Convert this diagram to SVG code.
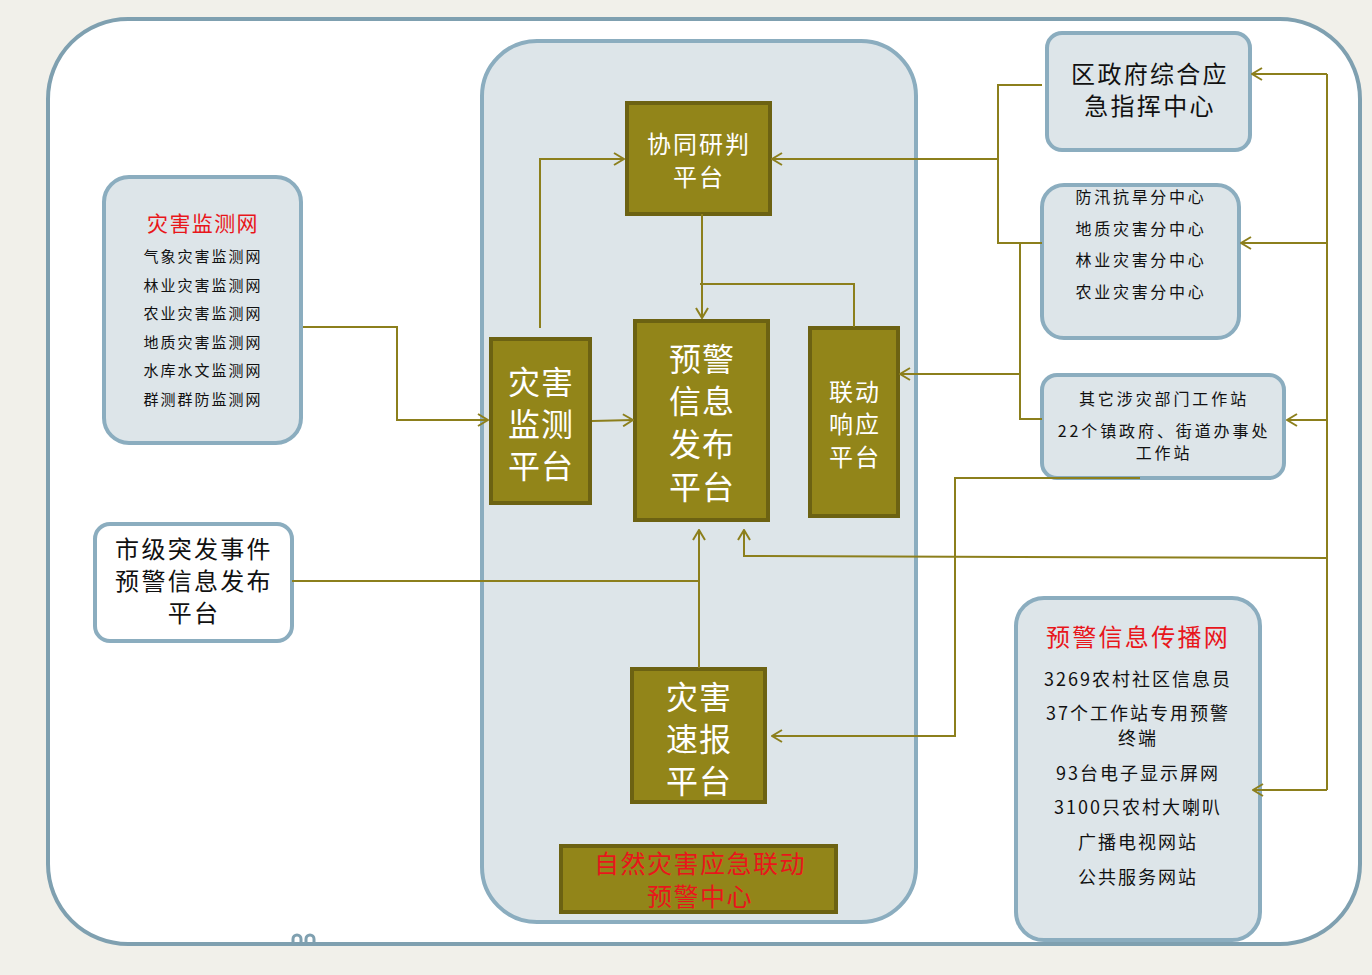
<svg xmlns="http://www.w3.org/2000/svg" width="1372" height="975" viewBox="0 0 1372 975">
<defs>
<style>
.t{font-family:"Noto Sans CJK SC","Liberation Sans",sans-serif;text-anchor:middle}
.blk{fill:#111}
.wht{fill:#ffffff}
.red{fill:#e8161b}
.pbox{fill:#dde5e9;stroke:#8badbf;stroke-width:4}
.wbox{fill:#ffffff;stroke:#8badbf;stroke-width:4}
.obox{fill:#928519;stroke:#6c6212;stroke-width:4}
.c{fill:none;stroke:#8c7f1c;stroke-width:2}
.a{marker-end:url(#arr)}
</style>
<marker id="arr" viewBox="0 0 12 14" refX="11" refY="7" markerWidth="12" markerHeight="14" markerUnits="userSpaceOnUse" orient="auto">
<path d="M1,1 L11,7 L1,13" fill="none" stroke="#8c7f1c" stroke-width="2"/>
</marker>
</defs>
<rect width="1372" height="975" fill="#f1f0ea"/>
<rect x="48" y="19" width="1312" height="925" rx="80" fill="#ffffff" stroke="#7fa0b0" stroke-width="4"/>
<path d="M293,944 v-5 a4,4 0 0 1 8,0 v5 M306,944 v-5 a4,4 0 0 1 8,0 v5" fill="none" stroke="#7fa0b0" stroke-width="3"/>
<rect id="panel" x="482" y="41" width="434" height="881" rx="55" class="pbox" stroke-width="3"/>

<g id="n-jiancewang">
<rect x="104" y="177" width="197" height="266" rx="25" class="pbox"/>
<text class="t red" x="203" y="231" font-size="21" letter-spacing="1.4">灾害监测网</text>
<g class="t blk" font-size="15" letter-spacing="2">
<text x="203" y="262">气象灾害监测网</text>
<text x="203" y="291">林业灾害监测网</text>
<text x="203" y="319">农业灾害监测网</text>
<text x="203" y="348">地质灾害监测网</text>
<text x="203" y="376">水库水文监测网</text>
<text x="203" y="405">群测群防监测网</text>
</g>
</g>

<g id="n-shiji">
<rect x="95" y="524" width="197" height="117" rx="15" class="wbox"/>
<g class="t blk" font-size="24" letter-spacing="2.3">
<text x="194" y="558">市级突发事件</text>
<text x="194" y="590">预警信息发布</text>
<text x="194" y="622">平台</text>
</g>
</g>

<g id="n-quzhengfu">
<rect x="1047" y="33" width="203" height="117" rx="15" class="pbox"/>
<g class="t blk" font-size="24" letter-spacing="2.3">
<text x="1150" y="83">区政府综合应</text>
<text x="1150" y="115">急指挥中心</text>
</g>
</g>

<g id="n-fenzhongxin">
<rect x="1042" y="185" width="197" height="153" rx="22" class="pbox"/>
<g class="t blk" font-size="16" letter-spacing="2.7">
<text x="1141" y="203">防汛抗旱分中心</text>
<text x="1141" y="235">地质灾害分中心</text>
<text x="1141" y="266">林业灾害分中心</text>
<text x="1141" y="298">农业灾害分中心</text>
</g>
</g>

<g id="n-gongzuozhan">
<rect x="1042" y="375" width="242" height="103" rx="15" class="pbox"/>
<g class="t blk" font-size="16" letter-spacing="2.9">
<text x="1164" y="405">其它涉灾部门工作站</text>
<text x="1164" y="437">22个镇政府、街道办事处</text>
<text x="1164" y="459">工作站</text>
</g>
</g>

<g id="n-chuanbowang">
<rect x="1016" y="598" width="244" height="342" rx="28" class="pbox"/>
<text class="t red" x="1138" y="646" font-size="24" letter-spacing="2.3">预警信息传播网</text>
<g class="t blk" font-size="18" letter-spacing="2">
<text x="1138" y="686">3269农村社区信息员</text>
<text x="1138" y="720">37个工作站专用预警</text>
<text x="1138" y="745">终端</text>
<text x="1138" y="780">93台电子显示屏网</text>
<text x="1138" y="814">3100只农村大喇叭</text>
<text x="1138" y="849">广播电视网站</text>
<text x="1138" y="884">公共服务网站</text>
</g>
</g>

<g id="n-xietong">
<rect x="627" y="103" width="143" height="111" class="obox"/>
<g class="t wht" font-size="24" letter-spacing="2">
<text x="699" y="153">协同研判</text>
<text x="699" y="186">平台</text>
</g>
</g>

<g id="n-jiancepingtai">
<rect x="491" y="339" width="99" height="164" class="obox"/>
<g class="t wht" font-size="32" letter-spacing="1">
<text x="541" y="394">灾害</text>
<text x="541" y="436">监测</text>
<text x="541" y="478">平台</text>
</g>
</g>

<g id="n-fabu">
<rect x="635" y="321" width="133" height="199" class="obox"/>
<g class="t wht" font-size="32" letter-spacing="1">
<text x="702" y="371">预警</text>
<text x="702" y="413">信息</text>
<text x="702" y="456">发布</text>
<text x="702" y="499">平台</text>
</g>
</g>

<g id="n-liandong">
<rect x="810" y="328" width="88" height="188" class="obox"/>
<g class="t wht" font-size="24" letter-spacing="2">
<text x="855" y="401">联动</text>
<text x="855" y="433">响应</text>
<text x="855" y="466">平台</text>
</g>
</g>

<g id="n-subao">
<rect x="632" y="669" width="133" height="133" class="obox"/>
<g class="t wht" font-size="32" letter-spacing="1">
<text x="699" y="709">灾害</text>
<text x="699" y="751">速报</text>
<text x="699" y="793">平台</text>
</g>
</g>

<g id="n-zhongxin">
<rect x="561" y="846" width="275" height="66" class="obox"/>
<g class="t red" font-size="25" letter-spacing="1.5">
<text x="700" y="873">自然灾害应急联动</text>
<text x="700" y="906">预警中心</text>
</g>
</g>

<g id="connectors">
<path class="c a" d="M303,327 H397 V420 H488"/>
<path class="c a" d="M540,328 V159 H624"/>
<path class="c a" d="M592,421 L633,420"/>
<path class="c a" d="M702,214 V318"/>
<path class="c" d="M700,284 H854 V327"/>
<path class="c" d="M1042,85 H998 V243 H1042"/>
<path class="c a" d="M998,159 H772"/>
<path class="c" d="M1020,243 V419 H1042"/>
<path class="c a" d="M1020,374 H900"/>
<path class="c" d="M1327,74 V790"/>
<path class="c a" d="M1327,74 H1252"/>
<path class="c a" d="M1327,243 H1241"/>
<path class="c a" d="M1327,420 H1287"/>
<path class="c a" d="M1327,790 H1253"/>
<path class="c a" d="M1327,558 L744,556 V530"/>
<path class="c a" d="M1140,478 H955 V736 H772"/>
<path class="c" d="M292,581 H699"/>
<path class="c a" d="M699,668 V530"/>
</g>
</svg>
